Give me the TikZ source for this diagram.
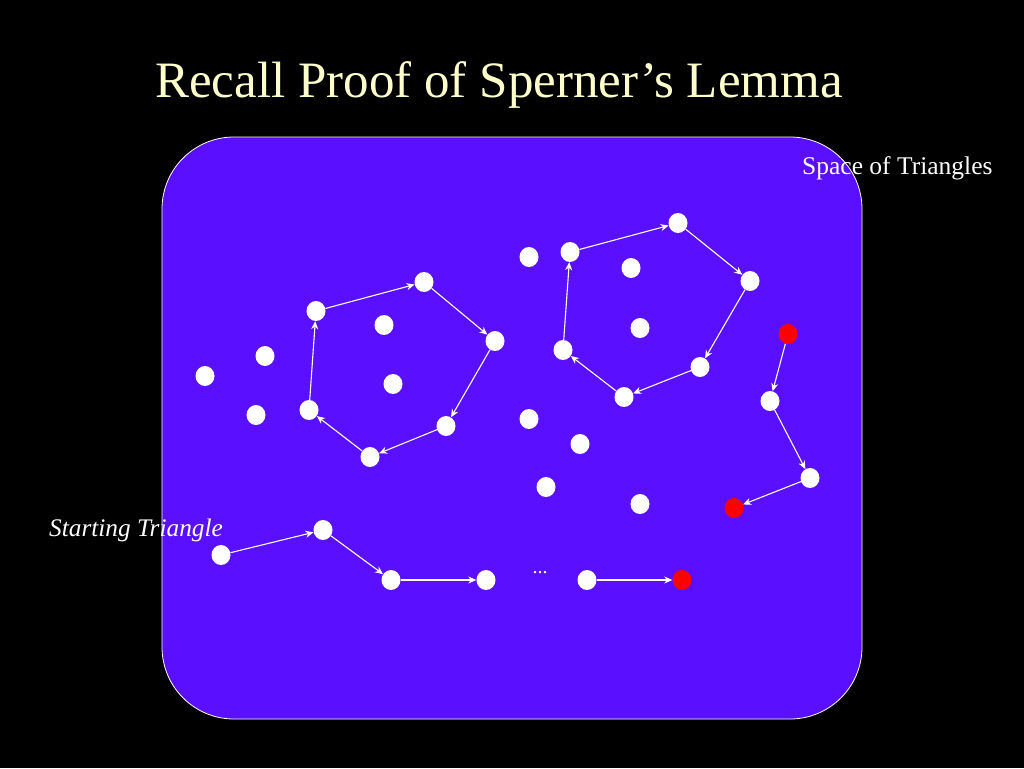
\documentclass[tikz,border=0pt]{standalone}
\usepackage{fontspec}
\setmainfont{Liberation Serif}
\usetikzlibrary{arrows.meta,shapes.geometric}
\definecolor{boxblue}{RGB}{90,16,255}
\definecolor{titlecream}{RGB}{255,255,204}
\definecolor{dotred}{RGB}{255,0,0}
\tikzset{
  dot/.style={ellipse,fill=white,draw=none,minimum width=19pt,minimum height=20pt,inner sep=0pt},
  reddot/.style={dot,fill=dotred},
  link/.style={draw=white,line width=1.1pt,-{Stealth[length=8pt,width=7pt,inset=2.5pt]}},
}
\begin{document}
\begin{tikzpicture}[x=1pt,y=-1pt]
\useasboundingbox (0,0) rectangle (1024,768);
\fill[black] (0,0) rectangle (1024,768);
\node[text=titlecream,font=\fontsize{51}{58}\selectfont] (title) at (499,85) {Recall Proof of Sperner’s Lemma};
\filldraw[fill=boxblue,draw=white,line width=0.8pt,rounded corners=72pt] (162,137) rectangle (862,719);
\node[text=white,font=\fontsize{25.5}{30}\selectfont,anchor=west,inner sep=0pt] (space) at (802,168) {Space of Triangles};
\node[text=white,font=\itshape\fontsize{25.3}{30}\selectfont,anchor=west,inner sep=0pt] (start) at (49,530) {Starting Triangle};
% left polygon
\node[dot] (a1) at (316,311) {};
\node[dot] (a2) at (424,282) {};
\node[dot] (a3) at (495,341) {};
\node[dot] (a4) at (446,426) {};
\node[dot] (a5) at (370,457) {};
\node[dot] (a6) at (309,410) {};
\node[dot] (ai1) at (384,325) {};
\node[dot] (ai2) at (393,384) {};
% right polygon
\node[dot] (b1) at (570,252) {};
\node[dot] (b2) at (678,223) {};
\node[dot] (b3) at (750,281) {};
\node[dot] (b4) at (700,367) {};
\node[dot] (b5) at (624,397) {};
\node[dot] (b6) at (563,350) {};
\node[dot] (bi1) at (631,268) {};
\node[dot] (bi2) at (640,328) {};
% loose dots
\node[dot] (c1) at (265,356) {};
\node[dot] (c2) at (205,376) {};
\node[dot] (c3) at (256,415) {};
\node[dot] (c4) at (529,257) {};
\node[dot] (c5) at (529,419) {};
\node[dot] (c6) at (580,444) {};
\node[dot] (c7) at (546,487) {};
\node[dot] (c8) at (640,504) {};
% red chain
\node[reddot] (r1) at (788,334) {};
\node[dot] (r2) at (770,401) {};
\node[dot] (r3) at (810,478) {};
\node[reddot] (r4) at (734,508) {};
% bottom path
\node[dot] (p1) at (221,555) {};
\node[dot] (p2) at (323,530) {};
\node[dot] (p3) at (391,580) {};
\node[dot] (p4) at (486,580) {};
\node[text=white,font=\fontsize{20}{24}\selectfont,inner sep=0pt] (dots) at (540,573) {...};
\node[dot] (p5) at (587,580) {};
\node[reddot] (p6) at (682,580) {};
% connectors
\foreach \s/\t in {a1/a2,a2/a3,a3/a4,a4/a5,a5/a6,a6/a1,
  b1/b2,b2/b3,b3/b4,b4/b5,b5/b6,b6/b1,
  r1/r2,r2/r3,r3/r4,
  p1/p2,p2/p3,p3/p4,p5/p6}
  \draw[link] (\s) -- (\t);
\end{tikzpicture}
\end{document}
